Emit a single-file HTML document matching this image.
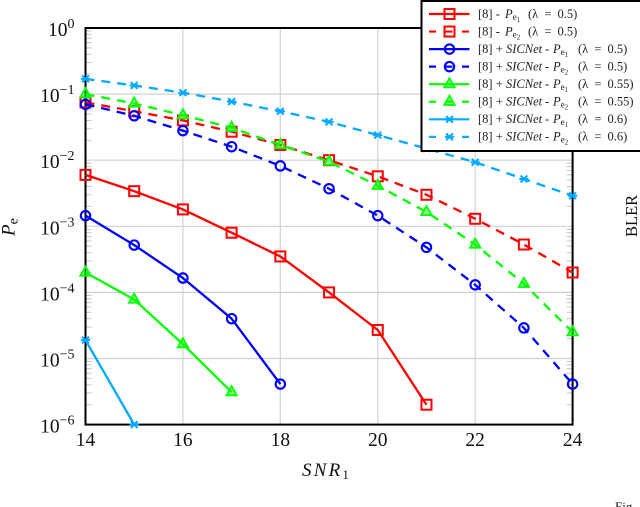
<!DOCTYPE html>
<html>
<head>
<meta charset="utf-8">
<style>
html,body{margin:0;padding:0;background:#fff;width:640px;height:507px;overflow:hidden}
svg{display:block;font-family:"Liberation Serif",serif;fill:#111}
</style>
</head>
<body>
<svg id="chart" width="640" height="507" viewBox="0 0 640 507" xmlns="http://www.w3.org/2000/svg"></svg>
<script>
const xTicks = [14, 16, 18, 20, 22, 24];
const yExponents = [0, -1, -2, -3, -4, -5, -6];
const snrAll = [14, 15, 16, 17, 18, 19, 20, 21, 22, 23, 24];

const redSolid = [6e-3, 3.4e-3, 1.8e-3, 8e-4, 3.5e-4, 1e-4, 2.7e-5, 2e-6];
const redDashed = [7.5e-2, 5.5e-2, 4e-2, 2.7e-2, 1.7e-2, 1e-2, 5.7e-3, 3e-3, 1.3e-3, 5.3e-4, 2e-4];
const blueSolid = [1.45e-3, 5.2e-4, 1.65e-4, 4e-5, 4.1e-6];
const blueDashed = [7e-2, 4.7e-2, 2.8e-2, 1.6e-2, 8.2e-3, 3.7e-3, 1.45e-3, 4.8e-4, 1.3e-4, 2.9e-5, 4.1e-6];
const greenSolid = [2e-4, 7.8e-5, 1.65e-5, 3.1e-6];
const greenDashed = [1e-1, 7.2e-2, 4.8e-2, 3.1e-2, 1.7e-2, 9.5e-3, 4.1e-3, 1.65e-3, 5.3e-4, 1.35e-4, 2.5e-5];
const cyanSolid = [1.9e-5, 1e-6];
const cyanDashed = [1.7e-1, 1.35e-1, 1.05e-1, 7.7e-2, 5.5e-2, 3.8e-2, 2.4e-2, 1.5e-2, 9.3e-3, 5.2e-3, 2.9e-3];

const seriesNames = ['red-solid', 'red-dashed', 'blue-solid', 'blue-dashed', 'green-solid', 'green-dashed', 'cyan-solid', 'cyan-dashed'];
const seriesValues = [redSolid, redDashed, blueSolid, blueDashed, greenSolid, greenDashed, cyanSolid, cyanDashed];
const seriesColors = ['#ff0000', '#ff0000', '#0000ff', '#0000ff', '#00ff00', '#00ff00', '#00aaff', '#00aaff'];
const seriesMarkers = ['square', 'square', 'circle', 'circle', 'triangle', 'triangle', 'cross', 'cross'];
const seriesDashed = [false, true, false, true, false, true, false, true];

const legendHasNet = [false, false, true, true, true, true, true, true];
const legendSub = ['1', '2', '1', '2', '1', '2', '1', '2'];
const legendLambda = ['0.5', '0.5', '0.5', '0.5', '0.55', '0.55', '0.6', '0.6'];

const plotL = 85.5, plotR = 572.6, plotT = 28, plotB = 424.6;
const xMin = 14, xMax = 24, yMinExp = -6, yMaxExp = 0;
const NS = 'http://www.w3.org/2000/svg';
const svg = document.getElementById('chart');

function xScale(v) { return plotL + (v - xMin) / (xMax - xMin) * (plotR - plotL); }
function yScale(v) { return plotT + (yMaxExp - Math.log10(v)) / (yMaxExp - yMinExp) * (plotB - plotT); }
function make(tag, attrs, parent) {
  const el = document.createElementNS(NS, tag);
  for (const k in attrs) el.setAttribute(k, attrs[k]);
  (parent || svg).appendChild(el);
  return el;
}
function drawMarker(parent, kind, x, y, color) {
  let el;
  if (kind === 'square') {
    el = make('rect', { x: x - 5, y: y - 5, width: 10, height: 10, fill: 'none', stroke: color, 'stroke-width': 2 }, parent);
  } else if (kind === 'circle') {
    el = make('circle', { cx: x, cy: y, r: 4.7, fill: 'none', stroke: color, 'stroke-width': 2.1 }, parent);
  } else if (kind === 'triangle') {
    el = make('path', { d: `M${x} ${y - 6}L${x + 5.2} ${y + 3.2}L${x - 5.2} ${y + 3.2}Z`, fill: color, 'fill-opacity': 0.45, stroke: color, 'stroke-width': 1.8 }, parent);
  } else {
    el = make('path', { d: `M${x - 3.4} ${y - 3.4}L${x + 3.4} ${y + 3.4}M${x + 3.4} ${y - 3.4}L${x - 3.4} ${y + 3.4}M${x - 4.6} ${y}L${x + 4.6} ${y}`, fill: 'none', stroke: color, 'stroke-width': 2 }, parent);
  }
  
  
}

/* grid */
const grid = make('g', {});


xTicks.slice(1, -1).forEach(t => {
  const l = make('line', { x1: xScale(t), x2: xScale(t), y1: plotT, y2: plotB, stroke: '#d6d6d6', 'stroke-width': 1.3 }, grid);
  
  
});
yExponents.slice(1, -1).forEach(e => {
  const l = make('line', { x1: plotL, x2: plotR, y1: yScale(Math.pow(10, e)), y2: yScale(Math.pow(10, e)), stroke: '#d0d0d0', 'stroke-width': 1.2 }, grid);
  
  
});

/* minor ticks */
const minor = make('g', {});


yExponents.slice(1).forEach(e => {
  for (let m = 2; m <= 9; m++) {
    const y = yScale(m * Math.pow(10, e));
    make('line', { x1: plotL, x2: plotL + 6, y1: y, y2: y, stroke: '#c4c4c4', 'stroke-width': 1 }, minor);
    make('line', { x1: plotR - 6, x2: plotR, y1: y, y2: y, stroke: '#c4c4c4', 'stroke-width': 1 }, minor);
  }
});

/* axes frame */
const frame = make('rect', { x: plotL, y: plotT, width: plotR - plotL, height: plotB - plotT, fill: 'none', stroke: '#000', 'stroke-width': 2 });



/* series */
seriesValues.forEach((vals, i) => {
  const g = make('g', {});
  
  
  const pts = vals.map((v, j) => xScale(snrAll[j]) + ',' + yScale(v)).join(' ');
  const attrs = { points: pts, fill: 'none', stroke: seriesColors[i], 'stroke-width': 2.3 };
  if (seriesDashed[i]) attrs['stroke-dasharray'] = '9 7';
  make('polyline', attrs, g);
  vals.forEach((v, j) => drawMarker(g, seriesMarkers[i], xScale(snrAll[j]), yScale(v), seriesColors[i]));
});

/* tick labels */
xTicks.forEach(t => {
  const el = make('text', { x: xScale(t), y: 446, 'text-anchor': 'middle', 'font-size': 19.5 });
  el.textContent = t;
  
  
});
yExponents.forEach(e => {
  const y = yScale(Math.pow(10, e));
  const el = make('text', { x: 74.5, y: y + 8, 'text-anchor': 'end', 'font-size': 19.5 });
  
  
  const a = make('tspan', {}, el);
  a.textContent = '10';
  const b = make('tspan', { dy: -8, 'font-size': 14 }, el);
  b.textContent = e === 0 ? '0' : '\u2212' + Math.abs(e);
});

/* axis titles */
const xt = make('text', { x: 302, y: 476, 'font-size': 19, 'font-style': 'italic', 'letter-spacing': 2.2 });


xt.appendChild(document.createTextNode('SNR'));
const xs = make('tspan', { dy: 3, 'font-size': 13, 'font-style': 'normal' }, xt);
xs.textContent = '1';

const yt = make('text', { transform: 'translate(14.5,236) rotate(-90)', 'font-size': 19, 'font-style': 'italic' });


yt.appendChild(document.createTextNode('P'));
const ys = make('tspan', { dy: 3, 'font-size': 14, 'font-style': 'normal' }, yt);
ys.textContent = 'e';

/* legend */
const legend = make('g', {});


const box = make('rect', { x: 421.5, y: 1, width: 222, height: 150, fill: '#fff', stroke: '#000', 'stroke-width': 2 }, legend);


seriesNames.forEach((n, i) => {
  const y = 14 + i * 17.55;
  const row = make('g', {}, legend);
  
  
  const a = { x1: 429, x2: 469.5, y1: y, y2: y, stroke: seriesColors[i], 'stroke-width': 2.2 };
  if (seriesDashed[i]) a['stroke-dasharray'] = '7 9.5';
  make('line', a, row);
  drawMarker(row, seriesMarkers[i], 449.5, y, seriesColors[i]);
  const t = make('text', { x: 478, y: y + 3.8, 'font-size': 12.5, fill: '#222' }, row);
  const net = legendHasNet[i];
  t.appendChild(document.createTextNode(net ? '[8] +' : '[8]  -'));
  if (net) {
    const nm = make('tspan', { 'font-style': 'italic', x: 506 }, t);
    nm.textContent = 'SICNet';
    const ds = make('tspan', { x: 545 }, t);
    ds.textContent = '-';
  }
  const p = make('tspan', { 'font-style': 'italic', x: net ? 553 : 505 }, t);
  p.textContent = 'P';
  const e = make('tspan', { 'font-size': 9, dy: 2 }, t);
  e.textContent = 'e';
  const s = make('tspan', { 'font-size': 7, dy: 2 }, t);
  s.textContent = legendSub[i];
  const l = make('tspan', { dy: -4, x: net ? 578 : 528, 'word-spacing': 3 }, t);
  l.textContent = '(\u03bb = ' + legendLambda[i] + ')';
});

/* clipped neighbouring text from the source page */
const bler = make('text', { transform: 'translate(637,237) rotate(-90)', 'font-size': 16.5, fill: '#111' });
bler.textContent = 'BLER';


const fig = make('text', { x: 615, y: 511, 'font-size': 13 });
fig.textContent = 'Fig';


</script>
</body>
</html>
